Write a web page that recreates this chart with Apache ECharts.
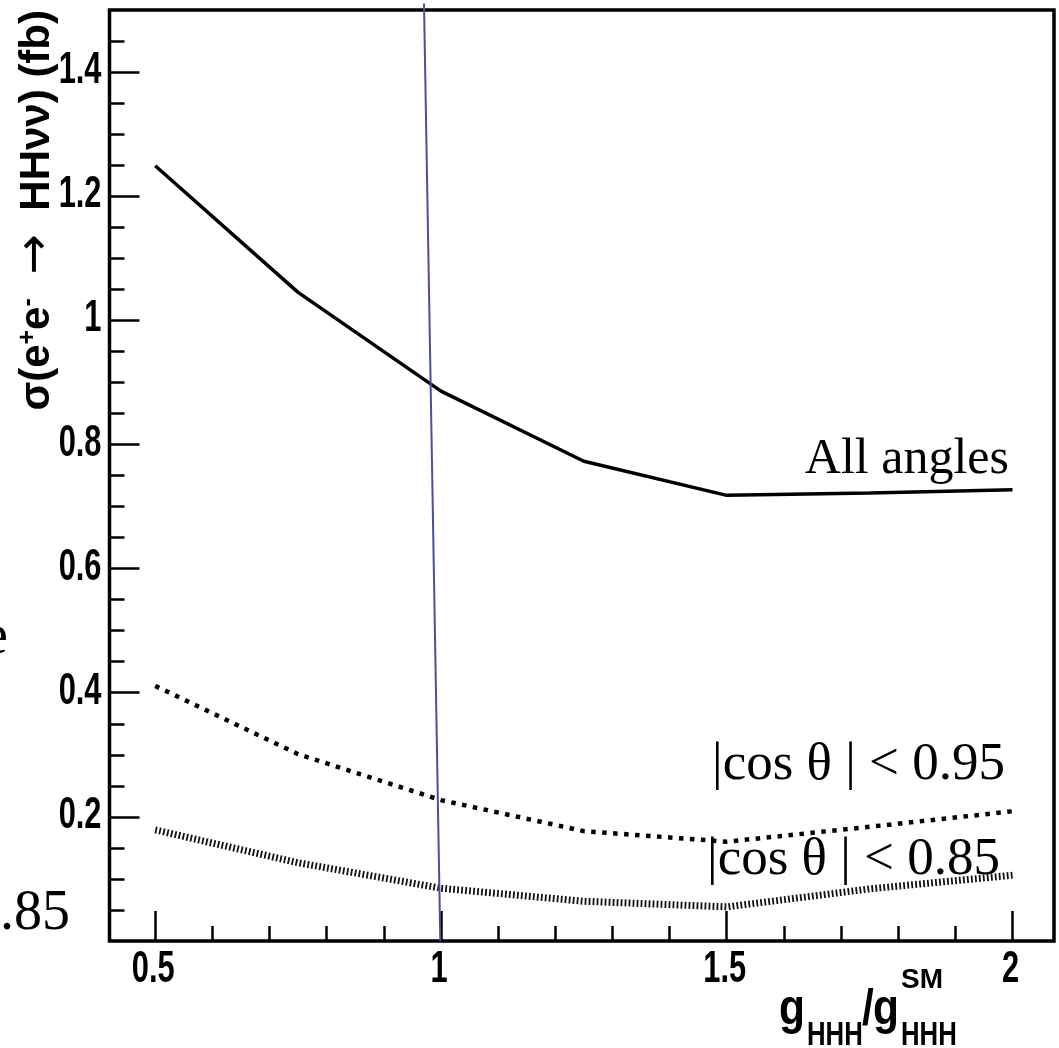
<!DOCTYPE html>
<html>
<head>
<meta charset="utf-8">
<script src="https://cdn.jsdelivr.net/npm/echarts@6/dist/echarts.min.js"></script>
<style>
  html, body { margin: 0; padding: 0; background: #fff; }
  #chart { width: 1059px; height: 1048px; }
</style>
</head>
<body>
<div id="chart"></div>
<script>
// Trilinear coupling scan: g_HHH / g_HHH^SM
const couplingRatio = [0.5, 0.75, 1, 1.25, 1.5, 1.75, 2];
// sigma(e+e- -> HH nu nu) in fb for three angular selections
const sigmaAllAngles = [1.249, 1.045, 0.886, 0.773, 0.718, 0.722, 0.727];
const sigmaCos095 = [0.411, 0.301, 0.227, 0.177, 0.160, 0.184, 0.209];
const sigmaCos085 = [0.179, 0.126, 0.085, 0.064, 0.055, 0.084, 0.106];
// Standard Model marker line (drawn slightly tilted)
const smMarkerX = [0.9703, 0.9988];
const smMarkerY = [1.5105, 0];

// Axis tick labels
const xTickLabels = [0.5, 1, 1.5, 2];
const yTickLabels = [0.2, 0.4, 0.6, 0.8, 1, 1.2, 1.4];

// Minor tick positions: every 0.1 on x, every 0.05 on y
const xMinorTicks = [];
for (let k = 5; k <= 20; k++) if (k % 5 !== 0) xMinorTicks.push(k / 10);
const yMinorTicks = [];
for (let k = 1; k < 30; k++) if (k % 4 !== 0) yMinorTicks.push(k / 20);

const pairs = (xs, ys) => xs.map((x, i) => [x, ys[i]]);

const sansFont = "'Liberation Sans', Arial, sans-serif";
const serifFont = "'Liberation Serif', 'Times New Roman', serif";
const arrowFont = "'DejaVu Sans', sans-serif";

const X_MIN = 0.42, X_MAX = 2.0726, Y_MIN = 0, Y_MAX = 1.5;

function makeXAxis(values, len) {
  return {
    type: 'value', min: X_MIN, max: X_MAX, position: 'bottom',
    axisLine: { show: false },
    splitLine: { show: false },
    axisTick: { show: true, inside: true, length: len, customValues: values,
                lineStyle: { color: '#000', width: 2.5 } },
    axisLabel: { show: false }
  };
}
function makeYAxis(values, len) {
  return {
    type: 'value', min: Y_MIN, max: Y_MAX, position: 'left',
    axisLine: { show: false },
    splitLine: { show: false },
    axisTick: { show: true, inside: true, length: len, customValues: values,
                lineStyle: { color: '#000', width: 2.5 } },
    axisLabel: { show: false }
  };
}

// Condensed bold sans text (Helvetica-narrow look) via horizontal scaling
function narrowText(text, x, y, size, align, sx) {
  return { type: 'text', x: x, y: y, scaleX: sx, z: 10,
           style: { text: text, align: align, verticalAlign: 'middle',
                    font: 'bold ' + size + 'px ' + sansFont, fill: '#000' } };
}

const annotations = [
  // curve annotations
  { type: 'text', x: 1009, y: 460, z: 10,
    style: { text: 'All angles', align: 'right', verticalAlign: 'middle',
             font: '50px ' + serifFont, fill: '#000' } },
  { type: 'text', x: 1005, y: 765, z: 10,
    style: { text: '|cos θ | < 0.95', align: 'right', verticalAlign: 'middle',
             font: '53px ' + serifFont, fill: '#000' } },
  { type: 'text', x: 1000, y: 860, z: 10,
    style: { text: '|cos θ | < 0.85', align: 'right', verticalAlign: 'middle',
             font: '53px ' + serifFont, fill: '#000' } },
  // text fragments at the left margin
  { type: 'text', x: -17, y: 638, z: 10,
    style: { text: 'e', align: 'left', verticalAlign: 'middle',
             font: '56px ' + serifFont, fill: '#000' } },
  { type: 'text', x: 0, y: 914, z: 10,
    style: { text: '.85', align: 'left', verticalAlign: 'middle',
             font: '56px ' + serifFont, fill: '#000' } },
  // y axis title
  { type: 'text', x: 37, y: 10, rotation: Math.PI / 2, z: 10,
    style: {
      text: '{m|σ(e}{s|+}{m|e}{s|-}{m| }{a|→}{m| HHνν) (fb)}',
      align: 'right', verticalAlign: 'middle',
      rich: {
        m: { fontFamily: sansFont, fontWeight: 'bold', fontSize: 42, lineHeight: 42, fill: '#000' },
        s: { fontFamily: sansFont, fontWeight: 'bold', fontSize: 25, lineHeight: 10,
             verticalAlign: 'top', fill: '#000' },
        a: { fontFamily: arrowFont, fontWeight: 'normal', fontSize: 48, lineHeight: 42,
             padding: [0, 12, 0, 12], fill: '#000' }
      }
    } },
  // x axis title: g_HHH / g_HHH^SM
  narrowText('g', 779, 1010, 50, 'left', 0.85),
  narrowText('HHH', 807, 1036, 33, 'left', 0.78),
  narrowText('/', 862, 1010, 50, 'left', 0.85),
  narrowText('g', 873, 1010, 50, 'left', 0.85),
  narrowText('SM', 901, 980, 28, 'left', 1),
  narrowText('HHH', 901, 1036, 33, 'left', 0.78)
];

const chart = echarts.init(document.getElementById('chart'), null, { renderer: 'canvas' });

chart.setOption({
  animation: false,
  backgroundColor: '#fff',
  grid: {
    left: 109.5, right: 5, top: 10, bottom: 107,
    show: true, borderColor: '#000', borderWidth: 3.5, backgroundColor: 'transparent',
    outerBoundsMode: 'none'
  },
  xAxis: [makeXAxis(xTickLabels, 30), makeXAxis(xMinorTicks, 15)],
  yAxis: [makeYAxis(yTickLabels, 30), makeYAxis(yMinorTicks, 15)],
  series: [
    {
      name: 'All angles', type: 'line', data: pairs(couplingRatio, sigmaAllAngles),
      symbol: 'none', lineStyle: { color: '#000', width: 3.5 }
    },
    {
      name: '|cos θ| < 0.95', type: 'line', data: pairs(couplingRatio, sigmaCos095),
      symbol: 'none', lineStyle: { color: '#000', width: 4.5, type: [4.5, 6.5], cap: 'butt' }
    },
    {
      name: '|cos θ| < 0.85', type: 'line', data: pairs(couplingRatio, sigmaCos085),
      symbol: 'none', lineStyle: { color: '#111', width: 7, type: [1.8, 2.2], cap: 'butt' }
    },
    {
      name: 'SM', type: 'line', data: pairs(smMarkerX, smMarkerY), clip: false, z: 5,
      symbol: 'none', lineStyle: { color: '#4b509c', width: 2 }
    }
  ],
  graphic: annotations
});

// Tick labels placed through the axis scales, in the condensed bold face
const xAxisY = chart.convertToPixel({ yAxisIndex: 0 }, 0);
const yAxisX = chart.convertToPixel({ xAxisIndex: 0 }, X_MIN);
const tickLabels = [];
xTickLabels.forEach(v => {
  tickLabels.push(narrowText(String(v), chart.convertToPixel({ xAxisIndex: 0 }, v) - 2,
                             xAxisY + 29, 44, 'center', 0.7));
});
yTickLabels.forEach(v => {
  tickLabels.push(narrowText(String(v), yAxisX - 8,
                             chart.convertToPixel({ yAxisIndex: 0 }, v) - 1, 44, 'right', 0.7));
});
chart.setOption({ graphic: annotations.concat(tickLabels) });
</script>
</body>
</html>
